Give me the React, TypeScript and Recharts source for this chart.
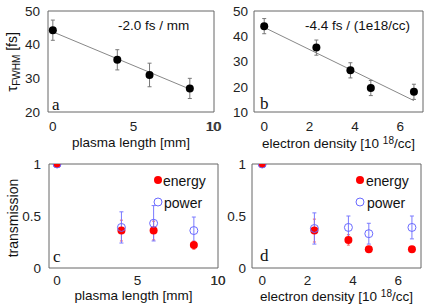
import React from 'react';
import { ComposedChart, Scatter, XAxis, YAxis, ErrorBar, ReferenceLine, ReferenceArea } from 'recharts';

// panel a / c : plasma length
const lengthMm = [0, 4, 6, 8.5];
const tauVsLength = [44.3, 35.5, 31, 27];
const tauVsLengthErr = [3, 3, 3.5, 3];
const fitLength = [{ x: 0, y: 43.8 }, { x: 8.5, y: 26.8 }];
const energyVsLength = [1, 0.36, 0.36, 0.22];
const energyVsLengthErr = [0, 0.1, 0.09, 0.04];
const powerVsLength = [1, 0.39, 0.43, 0.36];
const powerVsLengthErr = [0, 0.15, 0.17, 0.13];

// panel b / d : electron density
const densityE18 = [0, 2.3, 3.8, 4.7, 6.6];
const tauVsDensity = [44, 35.5, 26.5, 19.5, 18];
const tauVsDensityErr = [3, 3, 3, 3, 3];
const fitDensity = [{ x: 0, y: 43.5 }, { x: 6.6, y: 14.5 }];
const energyVsDensity = [1, 0.36, 0.27, 0.18, 0.18];
const energyVsDensityErr = [0, 0.11, 0.05, 0, 0];
const powerVsDensity = [1, 0.38, 0.39, 0.33, 0.39];
const powerVsDensityErr = [0, 0.15, 0.11, 0.1, 0.11];

const lengthTicks = [0, 5, 10];
const densityTicks = [0, 2, 4, 6];
const tauTicksA = [20, 30, 40, 50];
const tauTicksB = [10, 20, 30, 40, 50];
const transTicks = [0, 0.5, 1];

const FONT = '"Liberation Sans", Arial, sans-serif';
const SERIF = '"Liberation Serif", "Times New Roman", serif';
const tickStyle = { fontSize: 13.5, fill: '#222', fontFamily: FONT };

const toRows = (xs: number[], ys: number[], errs: number[]) =>
  xs.map((x, i) => ({ x, y: ys[i], err: errs[i] }));

const BlackDot = (p: any) => <circle cx={p.cx} cy={p.cy} r={4} fill="#000" />;
const RedDot = (p: any) => <circle cx={p.cx} cy={p.cy} r={4} fill="#ff0000" />;
const BlueRing = (p: any) => <circle cx={p.cx} cy={p.cy} r={4} fill="none" stroke="#6a6aff" strokeWidth={1} />;

const Txt: React.FC<{ left: number; top: number; size?: number; font?: string; children: React.ReactNode; style?: React.CSSProperties }> = ({ left, top, size = 13.5, font = FONT, children, style }) => (
  <div style={{ position: 'absolute', left, top, fontSize: size, fontFamily: font, color: '#111', whiteSpace: 'nowrap', lineHeight: 1, ...style }}>
    {children}
  </div>
);

interface PanelProps {
  left: number;
  top: number;
  width: number;
  height: number;
  right: number;
  yWidth: number;
  xTickGap: number;
  yTickGap: number;
  xDomain: [number, number];
  yDomain: [number, number];
  xTicks: number[];
  yTicks: number[];
  children: React.ReactNode;
}

const Panel: React.FC<PanelProps> = ({ left, top, width, height, right, yWidth, xTickGap, yTickGap, xDomain, yDomain, xTicks, yTicks, children }) => (
  <div style={{ position: 'absolute', left, top }}>
    <ComposedChart width={width} height={height} margin={{ top: 11, right, left: 0, bottom: 0 }}>
      <XAxis dataKey="x" type="number" domain={xDomain} ticks={xTicks} interval={0} height={38} axisLine={false} tickLine={false} tickSize={0} tickMargin={xTickGap} tick={tickStyle} allowDataOverflow />
      <YAxis type="number" domain={yDomain} ticks={yTicks} interval={0} width={yWidth} axisLine={false} tickLine={false} tickSize={0} tickMargin={yTickGap} tick={tickStyle} allowDataOverflow />
      <ReferenceArea x1={xDomain[0]} x2={xDomain[1]} y1={yDomain[0]} y2={yDomain[1]} fill="none" stroke="#666" strokeWidth={1} />
      {children}
    </ComposedChart>
  </div>
);

const App: React.FC = () => {
  const rowsA = toRows(lengthMm, tauVsLength, tauVsLengthErr);
  const rowsB = toRows(densityE18, tauVsDensity, tauVsDensityErr);
  const energyC = toRows(lengthMm, energyVsLength, energyVsLengthErr);
  const powerC = toRows(lengthMm, powerVsLength, powerVsLengthErr);
  const energyD = toRows(densityE18, energyVsDensity, energyVsDensityErr);
  const powerD = toRows(densityE18, powerVsDensity, powerVsDensityErr);
  const lastLength = lengthTicks[lengthTicks.length - 1];

  return (
    <div style={{ position: 'absolute', left: 0, top: 0, width: 436, height: 306, background: '#fff', fontFamily: FONT }}>
      {/* b */}
      <Panel left={216} top={0} width={220} height={150} right={13} yWidth={38} xTickGap={9} yTickGap={6} xDomain={[-0.45, 7]} yDomain={[10, 50]} xTicks={densityTicks} yTicks={tauTicksB}>
        <ReferenceLine segment={fitDensity} stroke="#888" strokeWidth={1} />
        <Scatter data={rowsB} dataKey="y" shape={BlackDot} isAnimationActive={false}>
          <ErrorBar dataKey="err" direction="y" width={2} stroke="#777" strokeWidth={1} />
        </Scatter>
      </Panel>
      {/* d */}
      <Panel left={216} top={153} width={220} height={153} right={15} yWidth={36} xTickGap={7} yTickGap={6} xDomain={[-0.45, 7]} yDomain={[0, 1]} xTicks={densityTicks} yTicks={transTicks}>
        <Scatter data={energyD} dataKey="y" shape={RedDot} isAnimationActive={false}>
          <ErrorBar dataKey="err" direction="y" width={1.5} stroke="#ff6060" strokeWidth={1} />
        </Scatter>
        <Scatter data={powerD} dataKey="y" shape={BlueRing} isAnimationActive={false}>
          <ErrorBar dataKey="err" direction="y" width={2} stroke="#7a7aff" strokeWidth={1} />
        </Scatter>
      </Panel>
      {/* a */}
      <Panel left={0} top={0} width={232} height={150} right={18} yWidth={48} xTickGap={9} yTickGap={8} xDomain={[-0.3, 10]} yDomain={[20, 50]} xTicks={lengthTicks} yTicks={tauTicksA}>
        <ReferenceLine segment={fitLength} stroke="#888" strokeWidth={1} />
        <Scatter data={rowsA} dataKey="y" shape={BlackDot} isAnimationActive={false}>
          <ErrorBar dataKey="err" direction="y" width={2} stroke="#777" strokeWidth={1} />
        </Scatter>
      </Panel>
      {/* c */}
      <Panel left={0} top={153} width={232} height={153} right={14} yWidth={49} xTickGap={7} yTickGap={8} xDomain={[-0.5, 10]} yDomain={[0, 1]} xTicks={lengthTicks} yTicks={transTicks}>
        <Scatter data={energyC} dataKey="y" shape={RedDot} isAnimationActive={false}>
          <ErrorBar dataKey="err" direction="y" width={1.5} stroke="#ff6060" strokeWidth={1} />
        </Scatter>
        <Scatter data={powerC} dataKey="y" shape={BlueRing} isAnimationActive={false}>
          <ErrorBar dataKey="err" direction="y" width={2} stroke="#7a7aff" strokeWidth={1} />
        </Scatter>
      </Panel>

      {/* last x tick label of a and c, which recharts leaves out here */}
      <Txt left={198} top={120} style={{ width: 30, textAlign: 'center', color: '#333', zIndex: 5 }}>{lastLength}</Txt>
      <Txt left={203} top={274} style={{ width: 30, textAlign: 'center', color: '#333', zIndex: 5 }}>{lastLength}</Txt>

      {/* annotations */}
      <Txt left={118} top={19}>-2.0 fs / mm</Txt>
      <Txt left={305} top={19}>-4.4 fs / (1e18/cc)</Txt>
      <Txt left={52} top={96} size={17} font={SERIF}>a</Txt>
      <Txt left={260} top={95} size={17} font={SERIF}>b</Txt>
      <Txt left={53} top={248} size={17} font={SERIF}>c</Txt>
      <Txt left={260} top={247} size={17} font={SERIF}>d</Txt>

      {/* axis titles */}
      <Txt left={48} top={136} style={{ width: 166, textAlign: 'center' }}>plasma length [mm]</Txt>
      <Txt left={254} top={136} style={{ width: 169, textAlign: 'center' }}>
        electron density [10 <sup style={{ fontSize: 10, verticalAlign: 4 }}>18</sup>/cc]
      </Txt>
      <Txt left={49} top={289} style={{ width: 169, textAlign: 'center' }}>plasma length [mm]</Txt>
      <Txt left={252} top={289} style={{ width: 169, textAlign: 'center' }}>
        electron density [10 <sup style={{ fontSize: 10, verticalAlign: 4 }}>18</sup>/cc]
      </Txt>
      <Txt left={13} top={62} size={14} style={{ transform: 'translate(-50%, -50%) rotate(-90deg)' }}>
        <span style={{ fontSize: 15 }}>τ</span>
        <sub style={{ fontSize: 10, verticalAlign: -3 }}>FWHM</sub> [fs]
      </Txt>
      <Txt left={13} top={218} size={14} style={{ transform: 'translate(-50%, -50%) rotate(-90deg)' }}>transmission</Txt>

      {/* legends */}
      <svg style={{ position: 'absolute', left: 153, top: 175 }} width={10} height={32}>
        <circle cx={5} cy={5} r={4} fill="#ff0000" />
        <circle cx={5} cy={27} r={4} fill="none" stroke="#6a6aff" />
      </svg>
      <Txt left={163} top={174} size={14}>energy</Txt>
      <Txt left={164} top={196} size={14}>power</Txt>
      <svg style={{ position: 'absolute', left: 355, top: 175 }} width={10} height={32}>
        <circle cx={5} cy={5} r={4} fill="#ff0000" />
        <circle cx={5} cy={27} r={4} fill="none" stroke="#6a6aff" />
      </svg>
      <Txt left={366} top={174} size={14}>energy</Txt>
      <Txt left={367} top={196} size={14}>power</Txt>
    </div>
  );
};

export default App;
